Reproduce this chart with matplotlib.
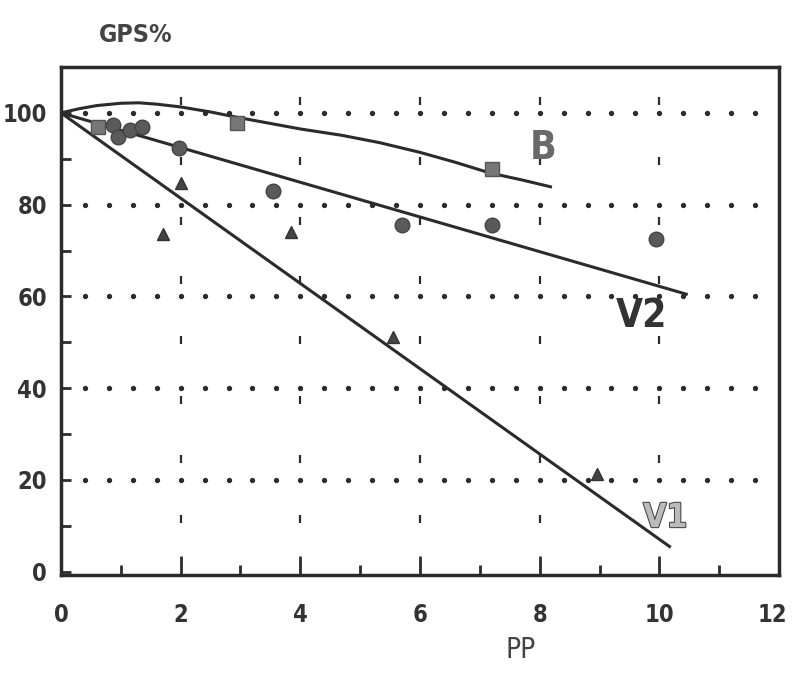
import matplotlib
matplotlib.use("Agg")
import matplotlib.pyplot as plt
import matplotlib.patheffects as pe
import matplotlib.transforms as mtransforms
import numpy as np

plt.rcParams['font.family'] = ['DejaVu Sans']
plt.rcParams['font.stretch'] = 'condensed'

b_x = [0.62, 2.95, 7.2]
b_y = [97.0, 97.8, 87.8]

v2_x = [0.87, 0.95, 1.15, 1.35, 1.97, 3.55, 5.7, 7.2, 9.95]
v2_y = [97.4, 94.8, 96.3, 97.0, 92.4, 83.0, 75.6, 75.6, 72.5]

v1_x = [1.7, 2.0, 3.85, 5.55, 8.95]
v1_y = [73.6, 84.7, 74.1, 51.2, 21.4]

# fitted curves as drawn in the picture
b_curve_x = [0, 0.3, 0.6, 1.0, 1.3, 1.6, 2.0, 2.5, 3.0, 3.5, 4.0, 4.7, 5.33, 6.0, 6.6, 7.17, 7.7, 8.18]
b_curve_y = [100, 100.9, 101.6, 102.1, 102.2, 101.9, 101.3, 100.2, 98.9, 97.7, 96.5, 95.1, 93.5, 91.4, 89.2, 86.9, 85.4, 83.9]

v2_line_x = [0, 10.45]
v2_line_y = [100, 60.5]

v1_line_x = [0, 10.17]
v1_line_y = [100, 5.5]

x_ticks = [0, 2, 4, 6, 8, 10, 12]
y_ticks = [0, 20, 40, 60, 80, 100]

ink = '#2b2b2b'

fig = plt.figure(figsize=(7.92, 6.81), dpi=100)
ax = fig.add_axes([0.077, 0.1557, 0.9066, 0.7459])

# dotted horizontal grid and dashed vertical grid
dots = np.arange(0.4, 12.0, 0.4)
for yv in [20, 40, 60, 80, 100]:
    ax.plot(dots, [yv] * len(dots), ls='none', marker='o', ms=2.8, color=ink, zorder=1)
dash_y = np.arange(11.5, 106, 13.0)
for xv in [2, 4, 6, 8, 10]:
    ax.plot([xv] * len(dash_y), dash_y, ls='none', marker='|', ms=6, mew=1.6, color=ink, zorder=1)

ax.plot(b_curve_x, b_curve_y, color=ink, lw=2.2, zorder=2)
ax.plot(v2_line_x, v2_line_y, color=ink, lw=2.2, zorder=2)
ax.plot(v1_line_x, v1_line_y, color=ink, lw=2.2, zorder=2)

ax.plot(b_x, b_y, ls='none', marker='s', ms=10, mfc='#777777', mec='#555555', zorder=3)
ax.plot(v2_x, v2_y, ls='none', marker='o', ms=10.5, mfc='#5a5a5a', mec='#444444', zorder=3)
ax.plot(v1_x, v1_y, ls='none', marker='^', ms=9, mfc='#444444', mec='#333333', zorder=3)

ax.text(8.05, 92.3, 'B', fontsize=28, fontweight='bold', color='#6a6a6a', ha='center', va='center')
ax.text(9.7, 55.8, 'V2', fontsize=28, fontweight='bold', color='#333333', ha='center', va='center')
ax.text(10.1, 11.8, 'V1', fontsize=24, fontweight='bold', color='#bbbbbb', ha='center', va='center',
        path_effects=[pe.withStroke(linewidth=1.5, foreground='#444444')])

ax.set_xlim(0, 12)
ax.set_ylim(-0.7, 110)
ax.set_xticks(x_ticks)
ax.set_xticks(np.arange(1, 12, 2), minor=True)
ax.set_yticks(y_ticks)
ax.set_yticks(np.arange(10, 110, 20), minor=True)
ax.tick_params(axis='both', which='major', direction='in', length=14, width=2, color=ink,
               labelsize=17, labelcolor='#333333')
ax.tick_params(axis='both', which='minor', direction='in', length=7, width=2, color=ink)
ax.tick_params(axis='x', which='major', pad=20)
ax.tick_params(axis='y', which='major', pad=10, length=7)
for lab in ax.get_xticklabels() + ax.get_yticklabels():
    lab.set_fontweight('bold')

# the last x label sits a little inside the frame, as in the scan
last = ax.get_xticklabels()[-1]
last.set_horizontalalignment('right')
last.set_transform(last.get_transform() + mtransforms.ScaledTranslation(6 / 72, 0, fig.dpi_scale_trans))

for s in ax.spines.values():
    s.set_linewidth(2.5)
    s.set_color(ink)

fig.text(0.171, 0.948, 'GPS%', fontsize=18, fontweight='bold', color='#444444', ha='center', va='center')
fig.text(0.657, 0.045, 'PP', fontsize=20, color='#444444', ha='center', va='center')

fig.savefig('out.png', dpi=100)
